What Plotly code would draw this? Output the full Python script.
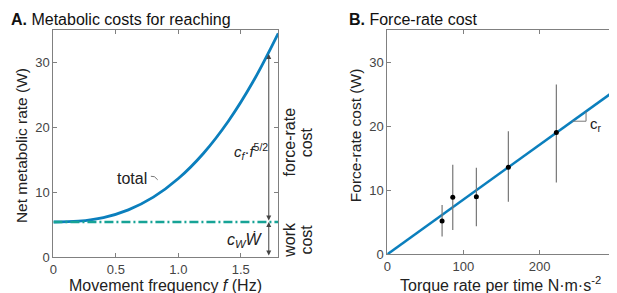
import plotly.graph_objects as go

# ---- Panel A data ----
freq = [0, 0.2, 0.4, 0.6, 0.8, 1.0, 1.2, 1.4, 1.6, 1.8]
total_rate = [5.4, 5.52, 6.08, 7.27, 9.23, 12.1, 15.97, 20.94, 27.1, 34.5]
work_level = [5.4, 5.4]
work_x = [0, 1.8]
a_xticks = [0, 0.5, 1.0, 1.5]
a_xticklabels = ["0", "0.5", "1.0", "1.5"]
a_yticks = [0, 10, 20, 30]

# ---- Panel B data ----
torque_rate = [72, 86, 117, 159, 222]
fr_cost = [5.2, 8.9, 9.0, 13.6, 19.0]
err_plus = [2.5, 5.1, 4.5, 5.6, 7.5]
err_minus = [2.4, 5.1, 4.6, 5.4, 7.8]
fit_x = [0, 300]
fit_y = [0, 25.65]
b_xticks = [0, 100, 200, 300]
b_yticks = [0, 10, 20, 30]

BLUE = "#0b7fbd"
TEAL = "#17a396"
AX = "#808080"
FONT = "Liberation Sans, Arial, sans-serif"

fig = go.Figure()
fig.add_trace(go.Scatter(x=freq, y=total_rate, mode="lines", line=dict(color=BLUE, width=2.8, shape="spline"),
                         xaxis="x", yaxis="y", showlegend=False))
fig.add_trace(go.Scatter(x=work_x, y=work_level, mode="lines", line=dict(color=TEAL, width=2.4, dash="9px,3px,2px,3px"),
                         xaxis="x", yaxis="y", showlegend=False))
fig.add_trace(go.Scatter(x=fit_x, y=fit_y, mode="lines", line=dict(color=BLUE, width=2.5),
                         xaxis="x2", yaxis="y2", showlegend=False))
fig.add_trace(go.Scatter(x=torque_rate, y=fr_cost, mode="markers",
                         marker=dict(color="black", size=5),
                         error_y=dict(type="data", symmetric=False, array=err_plus, arrayminus=err_minus,
                                      color="#777", thickness=1.2, width=0),
                         xaxis="x2", yaxis="y2", showlegend=False))

axis_common = dict(showline=True, linecolor=AX, linewidth=1, mirror="ticks", ticks="inside",
                   ticklen=4, tickcolor=AX, showgrid=False, zeroline=False,
                   tickfont=dict(family=FONT, size=13, color="#444"))

W, H = 617, 293
fig.update_layout(
    width=W, height=H, margin=dict(l=0, r=0, t=0, b=0),
    paper_bgcolor="white", plot_bgcolor="white",
    font=dict(family=FONT),
    xaxis=dict(domain=[41.7 / W, 268 / W], range=[0, 1.8], tickvals=a_xticks, ticktext=a_xticklabels,
               anchor="y", **axis_common),
    yaxis=dict(domain=[(H - 256) / H, (H - 22.7) / H], range=[0, 35], tickvals=a_yticks,
               anchor="x", **axis_common),
    xaxis2=dict(domain=[377.7 / W, 607.7 / W], range=[0, 300], tickvals=b_xticks,
                anchor="y2", **axis_common),
    yaxis2=dict(domain=[(H - 253.3) / H, (H - 22.7) / H], range=[0, 35], tickvals=b_yticks,
                anchor="x2", **axis_common),
)

def ptext(text, x, y, size=15, angle=0, xanchor="center", color="#222", xshift=0):
    fig.add_annotation(text=text, x=x / W, y=1 - y / H, xref="paper", yref="paper", showarrow=False,
                       font=dict(family=FONT, size=size, color=color), textangle=angle,
                       xanchor=xanchor, yanchor="middle", xshift=xshift)

# titles
ptext("<b>A.</b> Metabolic costs for reaching", 0, 12, size=16, xanchor="left", color="#111", xshift=-3)
ptext("<b>B.</b> Force-rate cost", 340, 12, size=16, xanchor="left", color="#111", xshift=-3)
# axis titles
ptext("Movement frequency <i>f</i> (Hz)", 155, 285, size=16)
ptext("Net metabolic rate (W)", 9, 141, size=15.5, angle=-90)
ptext("Torque rate per time N·m·s<sup>-2</sup>", 492, 284, size=16)
ptext("Force-rate cost (W)", 346, 131, size=15.5, angle=-90)
# side labels
ptext("force-rate", 279, 138, size=16, angle=-90)
ptext("cost", 296, 138, size=16, angle=-90)
ptext("work", 279, 238, size=16, angle=-90)
ptext("cost", 296, 238, size=16, angle=-90)

# arrows in panel A
for (y0, y1) in [(5.4, 31.3), (0, 5.4)]:
    fig.add_annotation(x=1.724, y=y1, ax=1.724, ay=y0, xref="x", yref="y", axref="x", ayref="y",
                       text="", showarrow=True, arrowhead=2, startarrowhead=2, arrowside="end+start",
                       arrowsize=1, startarrowsize=1, arrowwidth=1, arrowcolor="#444")

fig.add_annotation(x=1.58, y=16.3, xref="x", yref="y", showarrow=False,
                   text="<i>c</i><sub><i>f</i></sub>·<i>f</i><sup>5/2</sup>",
                   font=dict(family=FONT, size=15, color="#222"))
fig.add_annotation(x=1.53, y=2.6, xref="x", yref="y", showarrow=False,
                   text="<i>c</i><sub><i>W</i></sub><i>Ẇ</i>",
                   font=dict(family=FONT, size=16, color="#222"))
fig.add_annotation(x=0.63, y=12.1, xref="x", yref="y", showarrow=False, text="total",
                   font=dict(family=FONT, size=16, color="#222"))
fig.add_shape(type="path", path="M 0.78 12.45 Q 0.81 12.6 0.835 11.9", xref="x", yref="y",
              line=dict(color="#777", width=1))

# c_r slope triangle in panel B
fig.add_shape(type="line", x0=243, y0=20.78, x1=261, y1=20.78, xref="x2", yref="y2",
              line=dict(color="#777", width=1))
fig.add_shape(type="line", x0=261, y0=20.78, x1=261, y1=22.3, xref="x2", yref="y2",
              line=dict(color="#777", width=1))
fig.add_annotation(x=263, y=20.2, xref="x2", yref="y2", showarrow=False, xanchor="left",
                   text="c<sub>r</sub>", font=dict(family=FONT, size=15, color="#222"))

fig.write_html("out.html")
